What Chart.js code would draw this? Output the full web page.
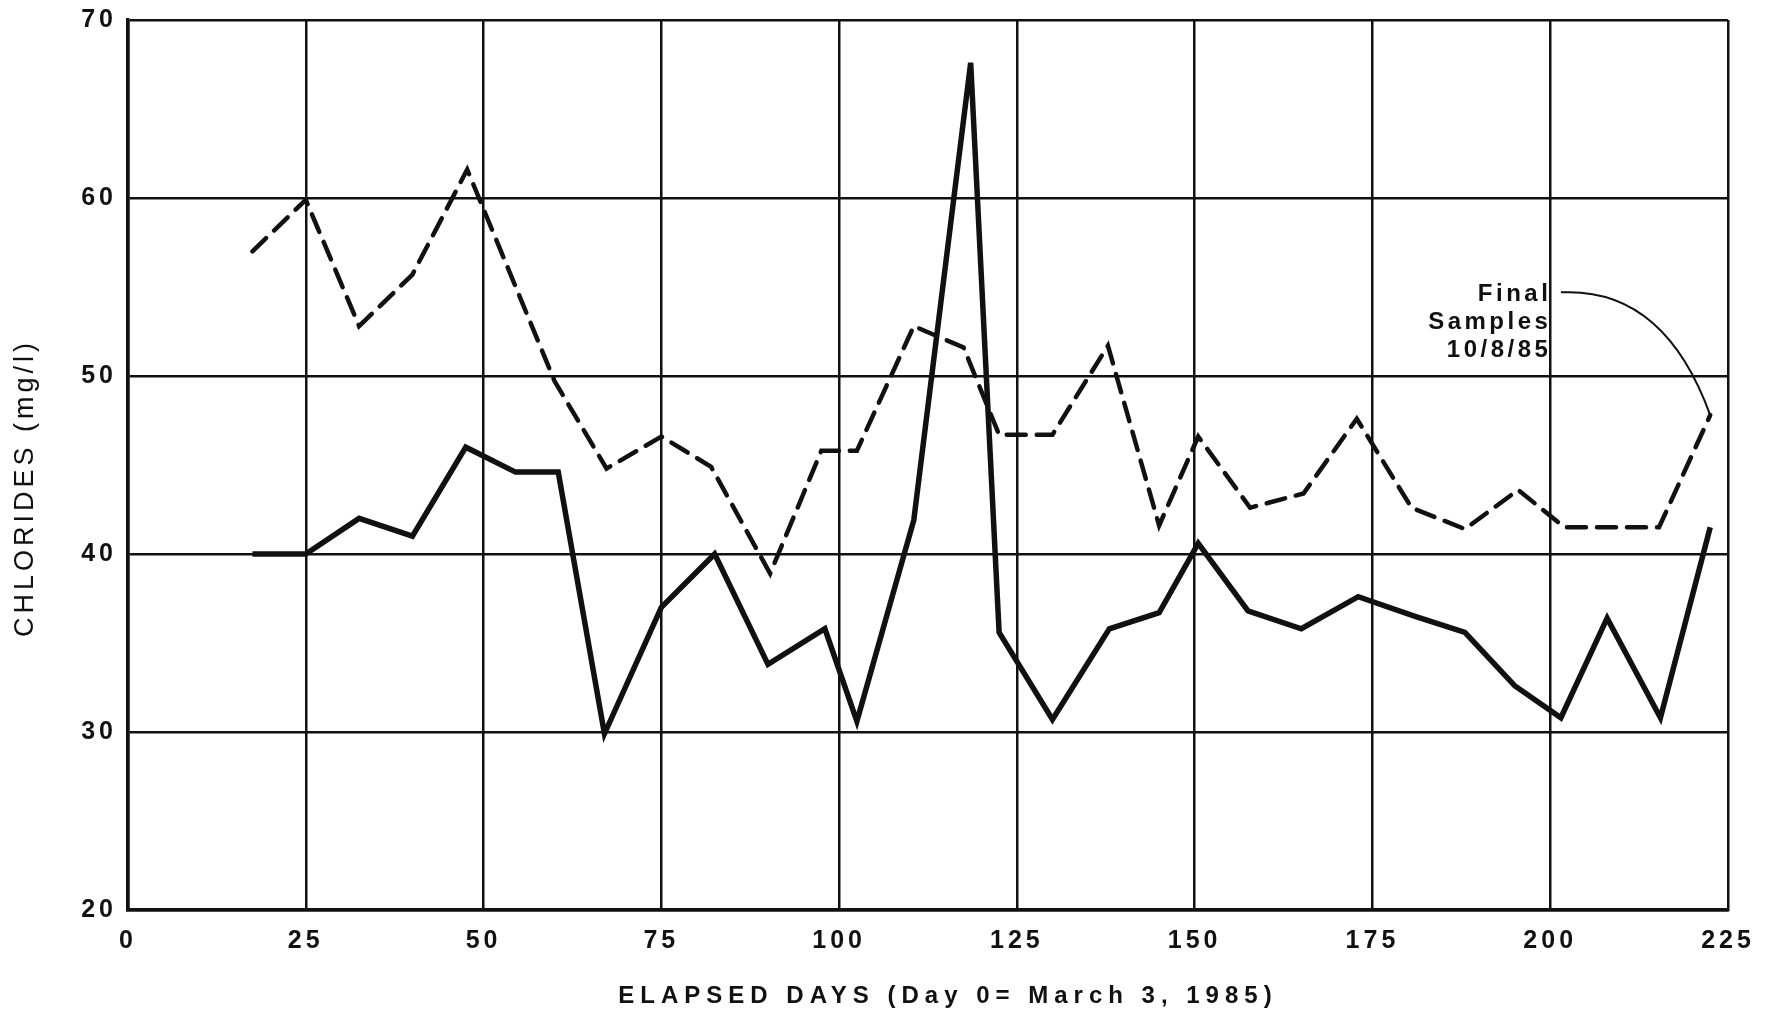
<!DOCTYPE html>
<html>
<head>
<meta charset="utf-8">
<title>Chlorides vs elapsed days</title>
<script src="https://cdn.jsdelivr.net/npm/chart.js@4.4.0/dist/chart.umd.min.js"></script>
<style>
  html, body { margin: 0; padding: 0; background: #fff; }
  #wrap { width: 1770px; height: 1014px; }
</style>
</head>
<body>
<div id="wrap"><canvas id="chart"></canvas></div>
<script>
// values (days since March 3, 1985 / mg/l)
const solidDays = [17.5, 25, 32.5, 40, 47.5, 54.5, 60.5, 67, 75, 82.5, 90, 98, 102.5, 110.5, 118.5,
  122.5, 130, 138, 145, 150.5, 157.5, 165, 173, 181, 188, 195, 201.5, 208, 215.5, 222.5]
const solidValues = [40, 40, 42, 41, 46, 44.6, 44.6, 29.9, 37, 40, 33.8, 35.8, 30.6, 41.9, 67.6,
  35.6, 30.7, 35.8, 36.7, 40.6, 36.8, 35.8, 37.6, 36.5, 35.6, 32.6, 30.8, 36.4, 30.8, 41.5]

const dashedDays = [17.5, 25, 32.5, 40, 47.7, 60, 67.3, 75, 82, 90.3, 97.5, 102.5, 110.5, 117.5,
  122.5, 130, 137.8, 145, 150.5, 157.8, 165.3, 172.8, 180.5, 188, 195.5, 202, 215.3, 222.5]
const dashedValues = [57, 59.9, 52.8, 55.7, 61.6, 49.7, 44.8, 46.6, 44.9, 38.9, 45.8, 45.8, 52.8, 51.6,
  46.7, 46.7, 51.7, 41.6, 46.6, 42.6, 43.4, 47.6, 42.6, 41.4, 43.6, 41.5, 41.5, 47.8]

const xTicks = [0, 25, 50, 75, 100, 125, 150, 175, 200, 225]
const yTicks = [20, 30, 40, 50, 60, 70]

const xTitle = 'ELAPSED DAYS (Day 0= March 3, 1985)'
const yTitle = 'CHLORIDES (mg/l)'
const noteLines = ['Final', 'Samples', '10/8/85']
const noteAt = [199.6, 54.6]        // right edge / first line of the note
const leaderFrom = [201.5, 54.7]    // leader curve start
const leaderBend = [216, 55]

const FONT = '"Liberation Sans", Arial, Helvetica, sans-serif'
const INK = '#111'

const toPoints = (xs, ys) => xs.map((d, i) => ({ x: d, y: ys[i] }))

// titles + "Final Samples" note, drawn on top of the chart
const extras = {
  id: 'extras',
  beforeDraw (chart) {
    chart.ctx.letterSpacing = '4px'
  },
  afterDraw (chart) {
    const { ctx, chartArea: a, scales: { x, y } } = chart
    ctx.save()
    ctx.fillStyle = INK

    ctx.letterSpacing = '6px'
    ctx.font = 'bold 24px ' + FONT
    ctx.textAlign = 'center'
    ctx.textBaseline = 'middle'
    ctx.fillText(xTitle, (a.left + a.right) / 2 + 20, a.bottom + 86)

    ctx.save()
    ctx.letterSpacing = '4px'
    ctx.font = '27px ' + FONT
    ctx.translate(26, a.top + 468)
    ctx.rotate(-Math.PI / 2)
    ctx.fillText(yTitle, 0, 0)
    ctx.restore()

    ctx.letterSpacing = '3.5px'
    ctx.font = 'bold 24px ' + FONT
    ctx.textAlign = 'right'
    const nx = x.getPixelForValue(noteAt[0]) + 4
    const ny = y.getPixelForValue(noteAt[1])
    noteLines.forEach((t, i) => ctx.fillText(t, nx, ny + i * 28))

    const lastX = dashedDays[dashedDays.length - 1]
    const lastY = dashedValues[dashedValues.length - 1]
    ctx.strokeStyle = INK
    ctx.lineWidth = 2
    ctx.beginPath()
    ctx.moveTo(x.getPixelForValue(leaderFrom[0]), y.getPixelForValue(leaderFrom[1]))
    ctx.quadraticCurveTo(
      x.getPixelForValue(leaderBend[0]), y.getPixelForValue(leaderBend[1]),
      x.getPixelForValue(lastX), y.getPixelForValue(lastY))
    ctx.stroke()
    ctx.restore()
  }
}

new Chart(document.getElementById('chart'), {
  type: 'line',
  data: {
    datasets: [
      {
        label: 'solid',
        data: toPoints(solidDays, solidValues),
        borderColor: INK,
        borderWidth: 5.5,
        pointRadius: 0,
        tension: 0,
        borderJoinStyle: 'miter'
      },
      {
        label: 'dashed',
        data: toPoints(dashedDays, dashedValues),
        borderColor: INK,
        borderWidth: 4.5,
        borderDash: [19, 11],
        borderCapStyle: 'round',
        pointRadius: 0,
        tension: 0
      }
    ]
  },
  options: {
    responsive: true,
    maintainAspectRatio: false,
    animation: false,
    layout: { padding: { top: 20, right: 42, left: 0, bottom: 0 } },
    plugins: { legend: { display: false }, tooltip: { enabled: false } },
    scales: {
      x: {
        type: 'linear',
        min: 0,
        max: 225,
        afterBuildTicks: s => { s.ticks = xTicks.map(v => ({ value: v })) },
        afterFit: s => { s.height = 104; s.paddingLeft = 0; s.paddingRight = 0 },
        grid: { color: INK, lineWidth: 2.5, drawTicks: false },
        border: { color: INK, width: 3.5 },
        ticks: { color: INK, padding: 16, maxRotation: 0, font: { family: FONT, size: 25, weight: 'bold' } }
      },
      y: {
        type: 'linear',
        min: 20,
        max: 70,
        afterBuildTicks: s => { s.ticks = yTicks.map(v => ({ value: v })) },
        afterFit: s => { s.width = 128; s.paddingTop = 0; s.paddingBottom = 0 },
        grid: { color: INK, lineWidth: 2.5, drawTicks: false },
        border: { color: INK, width: 3.5 },
        ticks: { color: INK, padding: 11, font: { family: FONT, size: 25, weight: 'bold' } }
      }
    }
  },
  plugins: [extras]
})
</script>
</body>
</html>
